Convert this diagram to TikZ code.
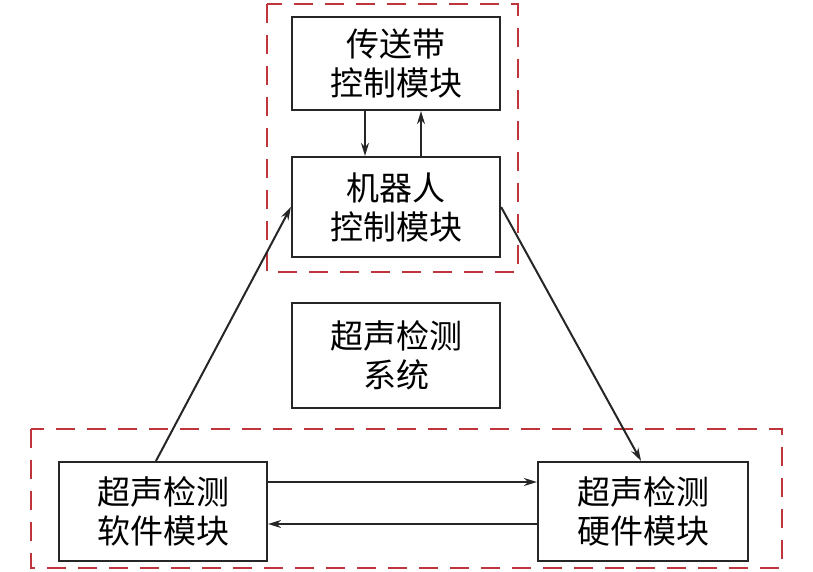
\documentclass[tikz,border=0pt]{standalone}
\usepackage{fontspec}
\setmainfont{Noto Sans CJK SC}
\usetikzlibrary{arrows.meta}

\definecolor{frame}{RGB}{192,52,60}

\tikzset{
    module/.style = {draw=black!85, line width=2.2pt, rectangle, align=center,
                     minimum width=208pt, inner sep=0pt,
                     font=\fontsize{33}{39}\selectfont},
    group/.style  = {draw=frame, line width=2pt, dash pattern=on 19pt off 12pt},
    flow/.style   = {draw=black!85, line width=2pt, -{Stealth[length=13pt,width=8pt]}}
}

\begin{document}
\begin{tikzpicture}[x=1pt, y=-1pt]
                \useasboundingbox (0,0) rectangle (813,571);
                % dashed groups
                \draw[group] (267,4) rectangle (518,272);
                \draw[group] (31,429) rectangle (782,568);
                % modules
                \node[module, minimum height=93pt]  (belt)   at (396,63.5)  {传送带\\控制模块};
                \node[module, minimum height=100pt] (robot)  at (396,207)   {机器人\\控制模块};
                \node[module, minimum height=105pt] (system) at (396,355.5) {超声检测\\系统};
                \node[module, minimum height=99pt]  (soft)   at (163,511.5) {超声检测\\软件模块};
                \node[module, minimum height=99pt, minimum width=210pt] (hard) at (643,511.5) {超声检测\\硬件模块};
                % connections
                \draw[flow] ([xshift=-31pt]belt.south) -- ([xshift=-31pt]robot.north);
                \draw[flow] ([xshift=25pt]robot.north) -- ([xshift=25pt]belt.south);
                \draw[flow] ([xshift=-7pt]soft.north) -- (robot.west);
                \draw[flow] (robot.east) -- ([xshift=-2pt]hard.north);
                \draw[flow] ([yshift=29.5pt]soft.east) -- ([yshift=29.5pt]hard.west);
                \draw[flow] ([yshift=-12.5pt]hard.west) -- ([yshift=-12.5pt]soft.east);
            \end{tikzpicture}
\end{document}
